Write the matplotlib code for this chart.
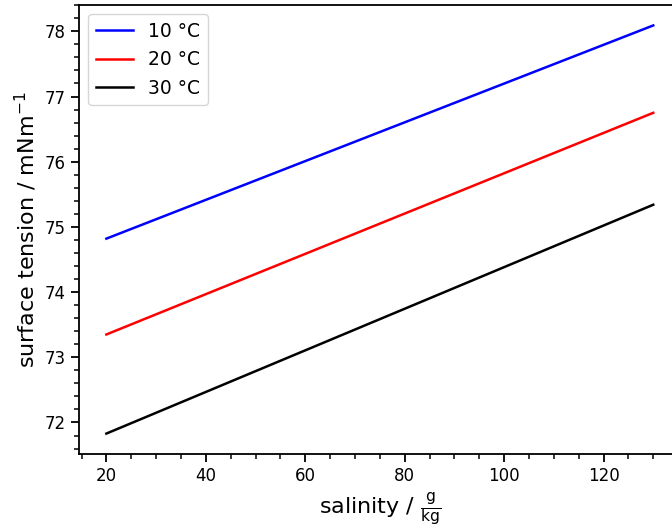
import matplotlib.pyplot as plt
from matplotlib.ticker import AutoMinorLocator

salinity = [20, 130]
temps = ['10 °C', '20 °C', '30 °C']
tension_10 = [74.82, 78.09]
tension_20 = [73.35, 76.75]
tension_30 = [71.83, 75.34]
colors = ['blue', 'red', 'black']

fig = plt.figure(figsize=(6.72, 5.29), dpi=100)
ax = fig.add_axes([0.1176, 0.1418, 0.8952, 0.8487])

for label, t, c in zip(temps, [tension_10, tension_20, tension_30], colors):
    ax.plot(salinity, t, color=c, lw=1.8, label=label)

ax.set_xlabel(r'salinity / $\frac{\mathrm{g}}{\mathrm{kg}}$', fontsize=16)
ax.set_ylabel(r'surface tension / mNm$^{-1}$', fontsize=16)
ax.xaxis.set_minor_locator(AutoMinorLocator(4))
ax.yaxis.set_minor_locator(AutoMinorLocator(5))
ax.tick_params(which='major', labelsize=12, length=6, width=1.3)
ax.tick_params(which='minor', length=3.5, width=1.1)
for s in ax.spines.values():
    s.set_linewidth(1.3)
ax.legend(fontsize=13.5, loc='upper left')

fig.savefig('out.png', dpi=100)
